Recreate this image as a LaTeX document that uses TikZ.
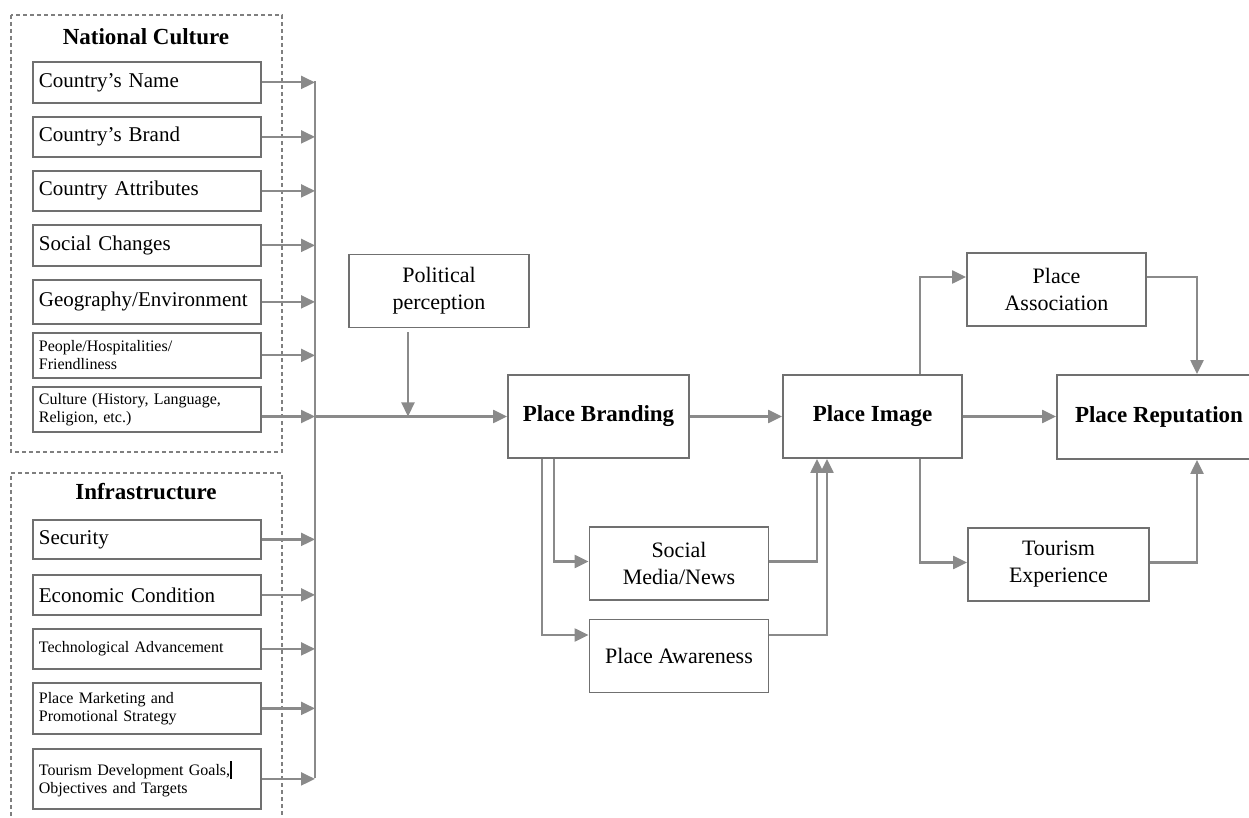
\documentclass[tikz,border=0pt]{standalone}
\usepackage{fontspec}
\setmainfont{Liberation Serif}
\usetikzlibrary{arrows.meta, calc}
\definecolor{boxLine}  {HTML}{707070}
\definecolor{flowLine} {HTML}{8A8A8A}
\definecolor{groupLine}{HTML}{7F7F7F}

\begin{document}
\begin{tikzpicture}[x=0.5pt, y=-0.5pt,
    itembox/.style={draw=boxLine, line width=0.9pt, anchor=north west, inner sep=3pt,
      text width=108pt, align=left, font=\fontsize{10.5}{12}\selectfont},
    smallbox/.style={itembox, font=\fontsize{8}{9}\selectfont},
    grouptitle/.style={font=\bfseries\fontsize{11.5}{13}\selectfont},
    mainbox/.style={draw=boxLine, line width=0.9pt, align=center, minimum width=89.5pt,
      minimum height=36.5pt, font=\fontsize{11}{13.5}\selectfont},
    keybox/.style={mainbox, minimum height=41.5pt, font=\bfseries\fontsize{11.5}{13.5}\selectfont},
    flow/.style={draw=flowLine, line width=1.1pt, -{Triangle[length=7pt,width=6.5pt]}},
    busline/.style={draw=flowLine, line width=1.1pt},
    group/.style={draw=groupLine, line width=0.6pt, dash pattern=on 2pt off 1.5pt}]

  \useasboundingbox (0,0) rectangle (1249,818);
  \clip (0,0) rectangle (1249,818);

  % dashed groups
  \draw[group] (11,15) rectangle (282,452);
  \draw[group] (11,830) -- (11,473) -- (282,473) -- (282,830);
  \node[grouptitle] (nc-title) at (146,37) {National Culture};
  \node[grouptitle] (inf-title) at (146,492) {Infrastructure};

  % national culture items
  \node[itembox, minimum height=20.5pt] (name) at (32,61) {Country's Name};
  \node[itembox, minimum height=20pt] (brand) at (32,116) {Country's Brand};
  \node[itembox, minimum height=20pt] (attr) at (32,170) {Country Attributes};
  \node[itembox, minimum height=20.5pt] (social) at (32,224) {Social Changes};
  \node[itembox, minimum height=22pt] (geo) at (32,279) {Geography/Environment};
  \node[smallbox, minimum height=22.5pt] (people) at (32,332) {People/Hospitalities/\\Friendliness};
  \node[smallbox, minimum height=22.5pt] (culture) at (32,386) {Culture (History, Language,\\Religion, etc.)};

  % infrastructure items
  \node[itembox, minimum height=19.5pt] (secur) at (32,519) {Security};
  \node[itembox, minimum height=20pt] (econ) at (32,574) {Economic Condition};
  \node[smallbox, minimum height=20pt] (tech) at (32,628) {Technological Advancement};
  \node[smallbox, minimum height=25.5pt] (market) at (32,682) {Place Marketing and\\Promotional Strategy};
  \node[smallbox, minimum height=30pt] (goals) at (32,748)
    {Tourism Development Goals,\rule[-1.5pt]{0.7pt}{9pt}\\Objectives and Targets};

  % collecting bus
  \coordinate (bus-top) at (315,81.5);
  \coordinate (bus-bot) at (315,778);
  \coordinate (bus-c) at (315,416.5);
  \draw[busline] (bus-top) -- (bus-bot);
  \foreach \n in {name,brand,attr,social,geo,people,secur,econ,tech,market,goals}
    \draw[flow] (\n.east) -- (\n.east -| bus-top);
  \draw[flow] (culture.east |- bus-c) -- (bus-c);

  % main chain
  \node[mainbox, minimum width=90pt] (polit) at (439,291) {Political\\perception};
  \node[keybox, minimum width=90.5pt] (branding) at (598.5,416.5) {Place Branding};
  \node[mainbox] (socmedia) at (679,563.5) {Social\\Media/News};
  \node[mainbox] (aware) at (679,656) {Place Awareness};
  \node[keybox] (image) at (872.5,416.5) {Place Image};
  \node[mainbox] (assoc) at (1056.5,289.5) {Place\\Association};
  \node[mainbox, minimum width=90.5pt] (tourexp) at (1058.5,564.5) {Tourism\\Experience};
  \node[keybox, minimum width=102pt, minimum height=42pt] (reput) at (1159,417) {Place Reputation};

  \coordinate (join) at (408,416.5);
  \draw[flow] (bus-c) -- (branding.west);
  \draw[flow] ([xshift=-15.5pt,yshift=-2pt]polit.south) -- (join);
  \draw[flow] (branding.east) -- (image.west);
  \draw[flow] ([xshift=-22.25pt]branding.south) |- ([yshift=1pt]socmedia.west);
  \draw[flow] ([xshift=-28.25pt]branding.south) |- ([yshift=10.5pt]aware.west);
  \draw[flow] ([yshift=1pt]socmedia.east) -| ([xshift=-27.75pt]image.south);
  \draw[flow] ([yshift=10.5pt]aware.east) -| ([xshift=-22.75pt]image.south);
  \draw[flow] (image.east) -- (image.east -| reput.west);
  \draw[flow] ([xshift=23.75pt]image.north) |- ([yshift=6.25pt]assoc.west);
  \draw[flow] ([xshift=23.75pt]image.south) |- ([yshift=1pt]tourexp.west);
  \draw[flow] ([yshift=6.25pt]assoc.east) -| ([xshift=19pt]reput.north);
  \draw[flow] ([yshift=1pt]tourexp.east) -| ([xshift=19pt]reput.south);
\end{tikzpicture}
\end{document}
